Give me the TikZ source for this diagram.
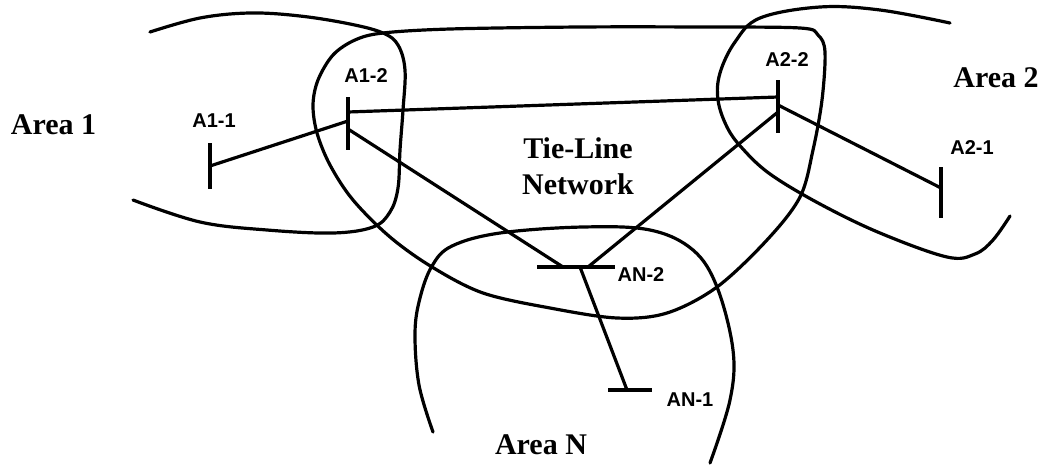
\documentclass[tikz,border=0pt]{standalone}
\usepackage{fontspec}
\setmainfont{Liberation Serif}
\setsansfont{Liberation Sans}
\usetikzlibrary{calc}
\begin{document}
\begin{tikzpicture}[x=1pt,y=-1pt,
  curve/.style={line width=3.2pt, line cap=round, line join=round},
  link/.style={line width=3.2pt},
  vtick/.style={inner sep=0pt, minimum width=3.2pt, fill=black, draw=none},
  htick/.style={inner sep=0pt, minimum height=3.2pt, fill=black, draw=none},
  arealbl/.style={inner sep=0pt, font=\fontsize{30}{36}\selectfont\bfseries, align=center},
  nodelbl/.style={inner sep=0pt, font=\sffamily\bfseries\fontsize{20}{22}\selectfont}]
\useasboundingbox (0,0) rectangle (1044,466);
% Area boundaries
\draw[curve] plot[smooth, tension=0.6] coordinates {(150,32) (200,18) (250,13) (300,16) (350,24) (383,33) (398,45) (405,70) (403,110) (400,150) (398,188) (390,212) (373,227) (333,233) (267,230) (200,222) (133,200)};
\draw[curve] plot[smooth cycle, tension=0.55] coordinates {(383,33) (450,29) (580,27) (700,27) (800,28) (818,35) (825,52) (822,100) (813,150) (800,197) (767,240) (717,287) (667,313) (617,318) (550,308) (483,293) (432,267) (390,237) (353,200) (330,165) (317,133) (313,105) (318,80) (333,55) (355,40)};
\draw[curve] plot[smooth, tension=0.6] coordinates {(950,23) (880,10) (820,7) (760,18) (735,42) (720,73) (718,100) (727,127) (742,148) (770,174) (820,204) (880,233) (947,257) (975,254) (993,240) (1010,216)};
\draw[curve] plot[smooth, tension=0.6] coordinates {(433,432) (419,385) (415,333) (420,298) (432,266) (452,246) (500,233) (583,227) (650,230) (693,250) (717,287) (733,350) (730,400) (710,463)};
% Nodes (ticks)
\node[vtick, minimum height=46pt] (a11) at (210,166) {};
\node[vtick, minimum height=53pt] (a12) at (348,123.5) {};
\node[vtick, minimum height=53pt] (a22) at (778,106.5) {};
\node[vtick, minimum height=51pt] (a21) at (941,192.5) {};
\node[htick, minimum width=78pt] (an2) at (576,267) {};
\node[htick, minimum width=44pt] (an1) at (630,390) {};
% Connectors
\draw[link] (a11.center) -- ($(a12.center)+(0,-2.5)$);
\draw[link] ($(a12.center)+(0,-11.5)$) -- ($(a22.center)+(0,-9.5)$);
\draw[link] ($(a12.center)+(0,5.5)$) -- ($(an2.center)+(-13,0)$);
\draw[link] ($(a22.center)+(0,-1.5)$) -- ($(a21.center)+(0,-4.5)$);
\draw[link] ($(a22.center)+(0,5.5)$) -- ($(an2.center)+(12,0)$);
\draw[link] ($(an2.center)+(4,0)$) -- ($(an1.center)+(-3,0)$);
% Labels
\node[nodelbl] (l11) at (214,121) {A1-1};
\node[nodelbl] (l12) at (366,76) {A1-2};
\node[nodelbl] (l22) at (787,60) {A2-2};
\node[nodelbl] (l21) at (972,148) {A2-1};
\node[nodelbl] (ln2) at (641,275) {AN-2};
\node[nodelbl] (ln1) at (690,400) {AN-1};
\node[arealbl] (area1) at (53.5,124.5) {Area 1};
\node[arealbl] (area2) at (996,78) {Area 2};
\node[arealbl] (arean) at (541,445) {Area N};
\node[arealbl] (tie) at (578,166.5) {Tie-Line\\Network};
\end{tikzpicture}
\end{document}
